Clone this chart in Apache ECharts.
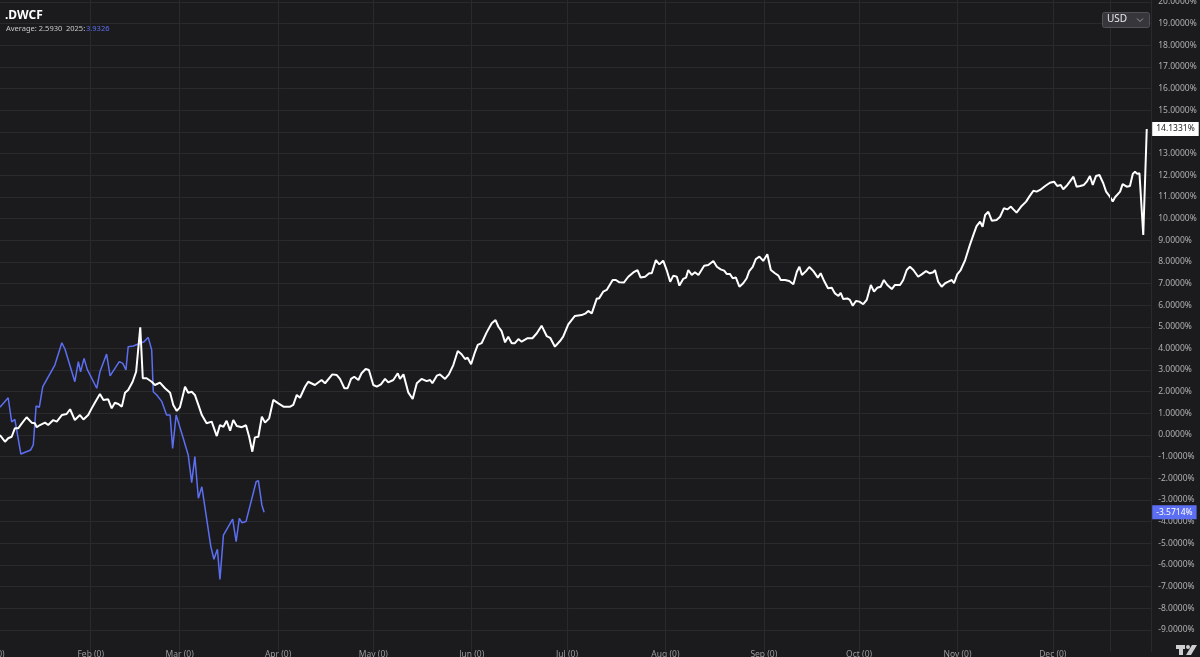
<!DOCTYPE html>
<html>
<head>
<meta charset="utf-8">
<script src="https://cdn.jsdelivr.net/npm/echarts@6/dist/echarts.min.js"></script>
<style>
html,body{margin:0;padding:0;background:#1b1b1d;}
#chart{width:1200px;height:657px;}
</style>
</head>
<body>
<div id="chart"></div>
<script>
// ---- data (x = day of year 2025, 0 = Jan 1; y = % change) ----
const monthNames = ['Jan','Feb','Mar','Apr','May','Jun','Jul','Aug','Sep','Oct','Nov','Dec'];
const monthTickLabels = monthNames.map(m => m + ' (0)');

const whiteDays = [2.4,4.0,5.0,6.1,7.1,8.2,9.3,10.8,12.4,13.4,14.0,15.0,16.6,17.6,19.2,20.3,21.9,23.4,24.5,25.0,26.0,27.6,28.7,30.2,31.3,32.3,33.9,35.0,36.5,37.6,38.6,39.7,40.8,41.8,42.8,44.2,45.3,45.8,46.6,47.4,48.6,50.2,51.2,52.8,54.4,56.0,57.0,58.1,59.1,60.7,61.7,62.8,63.8,64.9,66.0,67.5,69.1,70.7,71.7,72.8,73.8,74.9,75.9,77.0,78.6,79.9,80.9,81.9,82.7,83.8,84.9,85.9,87.2,88.5,90.1,91.7,93.8,94.8,95.9,96.9,98.5,99.5,101.6,103.7,104.8,107.1,108.5,109.5,110.9,111.9,113.0,114.0,115.3,116.3,117.6,118.6,120.0,121.1,122.4,123.7,124.7,126.3,127.7,128.4,129.5,131.0,132.4,133.7,135.2,136.8,137.9,138.6,140.0,141.0,142.6,143.8,145.2,146.6,147.8,148.9,149.7,150.8,152.0,152.9,154.1,155.7,157.3,158.5,159.4,160.4,161.5,162.5,163.6,164.6,165.7,166.7,168.6,170.1,171.5,173.0,174.6,175.7,177.2,178.8,179.8,181.4,183.5,185.6,186.9,187.7,188.8,190.4,191.1,192.4,193.5,195.4,196.4,197.5,198.9,200.3,201.9,203.2,204.2,205.6,206.9,207.7,209.0,210.1,211.3,212.4,213.5,214.5,215.6,216.4,217.6,218.5,219.2,220.3,221.3,222.4,224.2,225.5,227.1,228.2,229.4,230.5,231.3,232.3,233.2,234.2,235.3,236.5,237.6,238.4,239.5,240.5,241.6,242.8,244.1,245.2,246.5,247.6,248.3,249.7,251.0,252.3,253.4,254.2,255.0,256.3,257.3,258.6,260.0,260.9,262.0,263.2,264.4,265.4,266.5,267.2,268.0,269.3,270.1,271.0,272.0,273.1,274.3,275.4,276.7,277.7,278.7,279.8,280.8,281.9,283.3,284.3,285.9,286.9,288.0,289.0,290.1,291.6,292.7,294.1,295.3,296.4,296.9,297.9,299.0,300.1,301.1,302.2,302.9,303.9,305.0,306.4,307.9,309.0,310.0,311.1,311.9,312.7,313.7,314.8,316.3,317.4,318.6,319.7,320.8,321.6,322.6,324.2,325.6,326.6,327.9,328.9,330.0,331.6,333.1,334.4,335.4,336.5,337.3,338.6,339.6,340.5,341.5,342.6,343.8,344.7,345.7,346.6,347.6,348.7,349.9,350.8,352.0,352.9,353.6,355.2,356.0,357.3,358.3,359.2,359.9,360.6,361.3,361.7,362.5,363.6];
const whitePct = [0.00,-0.31,-0.15,-0.08,0.31,0.31,0.54,0.82,0.57,0.54,0.36,0.46,0.57,0.46,0.69,0.62,0.92,0.97,1.19,1.28,0.69,0.92,0.72,0.92,1.23,1.49,1.89,1.62,1.65,1.23,1.49,1.43,1.31,1.95,2.08,2.46,2.92,2.85,4.97,2.62,2.62,2.46,2.31,2.42,2.16,1.95,1.39,1.11,1.28,2.23,1.95,2.00,1.85,1.39,0.92,0.54,0.62,-0.05,0.46,0.38,0.66,0.20,0.69,0.42,0.36,0.45,-0.08,-0.77,-0.11,-0.08,0.85,0.57,0.77,1.62,1.46,1.31,1.31,1.39,1.85,1.72,2.23,2.46,2.31,2.54,2.39,2.80,2.77,2.59,2.16,2.16,2.59,2.69,2.54,2.85,3.05,3.00,2.31,2.23,2.34,2.59,2.43,2.54,2.85,2.59,2.80,1.97,1.66,2.39,2.59,2.49,2.54,2.39,2.74,2.80,2.59,2.80,3.23,3.88,3.73,3.51,3.57,3.27,3.82,4.16,4.24,4.74,5.16,5.31,5.00,4.80,4.28,4.54,4.24,4.24,4.43,4.31,4.47,4.47,4.70,5.05,4.57,4.49,4.08,4.34,4.54,5.11,5.50,5.54,5.62,5.73,5.62,6.31,6.31,6.62,6.70,7.16,7.16,7.05,7.04,7.31,7.51,7.62,7.27,7.31,7.47,7.47,8.08,7.88,8.05,7.62,7.08,7.36,7.31,6.90,7.21,7.27,7.62,7.39,7.52,7.39,7.82,7.85,8.04,7.77,7.65,7.59,7.44,7.44,7.24,7.27,6.85,7.01,7.24,7.57,7.77,8.13,8.24,8.04,8.35,7.62,7.47,7.36,7.16,7.16,7.11,6.96,7.54,7.77,7.39,7.57,7.76,7.57,7.27,7.47,7.11,6.78,6.80,6.54,6.42,6.57,6.28,6.31,6.24,5.97,6.19,6.16,6.04,6.24,6.93,6.62,6.80,6.85,7.16,6.93,6.74,6.93,6.93,7.16,7.62,7.77,7.62,7.31,7.42,7.57,7.47,7.52,7.62,7.08,6.85,7.01,7.08,7.16,7.01,7.42,7.62,8.08,8.78,9.24,9.65,9.85,9.62,10.16,10.31,9.90,9.93,10.08,10.47,10.42,10.55,10.42,10.27,10.58,10.78,11.01,11.28,11.24,11.32,11.50,11.65,11.70,11.50,11.55,11.35,11.55,11.75,11.93,11.47,11.50,11.55,11.70,11.96,11.55,11.96,12.01,11.63,11.24,11.01,10.78,10.98,11.24,11.59,11.47,11.50,12.06,12.16,12.06,12.09,12.12,9.24,14.1331];

const blueDays = [2.4,5.0,6.1,7.1,9.0,12.1,12.9,13.8,14.8,15.9,19.7,21.9,22.9,26.0,27.1,27.8,28.9,29.9,32.9,33.9,36.0,37.1,40.0,41.1,42.1,42.8,44.4,47.8,49.1,50.2,50.7,51.8,53.4,54.9,56.0,56.8,57.9,60.0,61.7,62.8,63.8,64.9,66.0,68.8,69.8,70.9,71.7,72.8,75.7,76.8,77.8,78.6,79.9,83.1,83.8,84.9,85.6];
const bluePct = [1.28,1.72,0.61,0.72,-0.88,-0.69,-0.46,1.34,1.28,2.23,3.23,4.26,3.96,2.46,3.39,2.92,3.54,3.03,2.16,2.92,3.74,2.73,3.39,3.31,3.00,4.08,4.11,4.31,4.51,3.93,2.00,1.85,1.54,0.92,0.92,-0.62,0.92,-0.08,-0.92,-2.20,-1.00,-2.92,-2.39,-5.13,-5.74,-5.28,-6.67,-4.62,-3.89,-4.93,-3.85,-4.05,-4.00,-2.16,-2.11,-3.23,-3.5714];

const titleText = '.DWCF';
const averageText = 'Average: 2.5930';
const yearLabel = '2025:';
const yearValue = '3.9326';
const currencyText = 'USD';
const extraGridDay = 352;

// ---- styles ----
const BG = '#1b1b1d';
const GRID = '#2a2a2d';
const WHITE = '#ffffff';
const BLUE = '#5c6ff2';
const FONT = 'Noto Sans';
const DAY = 86400000;
const T0 = Date.UTC(2025, 0, 1);
const T1 = Date.UTC(2026, 0, 1);

const whiteData = whiteDays.map((d, i) => [T0 + d * DAY, whitePct[i]]);
const blueData = blueDays.map((d, i) => [T0 + d * DAY, bluePct[i]]);
const fmtPct = v => Number(v).toFixed(4) + '%';

const chart = echarts.init(document.getElementById('chart'), null, {renderer: 'canvas'});
chart.setOption({
  useUTC: true,
  backgroundColor: BG,
  animation: false,
  grid: {left: -7.7, right: 48.8, top: -19.65, bottom: 5.5, containLabel: false, outerBoundsMode: 'none'},
  xAxis: {
    type: 'time',
    min: T0, max: T1,
    splitNumber: 12,
    minInterval: 28 * DAY,
    maxInterval: 31 * DAY,
    offset: -7.5,
    axisLine: {show: true, lineStyle: {color: GRID, width: 1}},
    axisTick: {show: false},
    splitLine: {show: true, lineStyle: {color: GRID, width: 1}},
    axisLabel: {
      color: '#9a9a9e', fontSize: 8.5, fontFamily: FONT, margin: 6,
      showMaxLabel: false, showMinLabel: true, hideOverlap: false,
      formatter: v => monthTickLabels[new Date(v).getUTCMonth()]
    }
  },
  yAxis: {
    type: 'value',
    position: 'right',
    min: -10, max: 21, interval: 1,
    axisLine: {show: true, lineStyle: {color: GRID, width: 1}},
    axisTick: {show: false},
    splitLine: {show: true, showMinLine: false, showMaxLine: false, lineStyle: {color: GRID, width: 1}},
    axisLabel: {
      color: '#b0b0b4', fontSize: 8.5, fontFamily: FONT, margin: 7, align: 'left',
      showMinLabel: false, showMaxLabel: false,
      formatter: v => fmtPct(v)
    }
  },
  series: [
    {
      name: 'avg', type: 'line', data: whiteData, showSymbol: false, symbol: 'none',
      lineStyle: {color: WHITE, width: 2}, itemStyle: {color: WHITE}, z: 3,
      markLine: {
        silent: true, symbol: 'none', animation: false, precision: 4,
        data: [
          {yAxis: whitePct[whitePct.length - 1],
           lineStyle: {color: 'rgba(0,0,0,0)', width: 1},
           label: {show: true, position: 'end', distance: 1, formatter: p => fmtPct(p.value),
                   backgroundColor: '#ffffff', color: '#222', fontSize: 8.5, fontFamily: FONT,
                   padding: [3, 4, 2, 4], opacity: 1}},
          {xAxis: T0 + extraGridDay * DAY,
           lineStyle: {color: GRID, width: 1, type: 'solid'},
           label: {show: false}}
        ]
      }
    },
    {
      name: '2025', type: 'line', data: blueData, showSymbol: false, symbol: 'none',
      lineStyle: {color: BLUE, width: 1.5}, itemStyle: {color: BLUE}, z: 2,
      markLine: {
        silent: true, symbol: 'none', animation: false, precision: 4,
        data: [
          {yAxis: bluePct[bluePct.length - 1],
           lineStyle: {color: 'rgba(0,0,0,0)', width: 1},
           label: {show: true, position: 'end', distance: 1, formatter: p => fmtPct(p.value),
                   backgroundColor: BLUE, color: '#ffffff', fontSize: 8.5, fontFamily: FONT,
                   padding: [3, 4, 2, 4], opacity: 1}}
        ]
      }
    }
  ],
  graphic: [
    {type: 'text', left: 5, top: 10, style: {text: titleText, fill: '#ffffff', font: 'bold 12px "Noto Sans"'}},
    {type: 'text', left: 6, top: 25, style: {text: averageText, fill: '#c8c8cc', font: '7.5px "Noto Sans"'}},
    {type: 'text', left: 66, top: 25, style: {text: yearLabel, fill: '#c8c8cc', font: '7.5px "Noto Sans"'}},
    {type: 'text', left: 86, top: 25, style: {text: yearValue, fill: BLUE, font: '7.5px "Noto Sans"'}},
    {type: 'rect', z: 100, shape: {x: 1102.5, y: 12.5, width: 47, height: 15, r: 2},
     style: {fill: '#37373b', stroke: '#505055', lineWidth: 1}},
    {type: 'text', z: 101, x: 1107, y: 14.5, style: {text: currencyText, fill: '#e8e8ea', font: '10px "Noto Sans"'}},
    {type: 'polyline', z: 101, shape: {points: [[1137, 18.5], [1140, 21.5], [1143, 18.5]]},
     style: {stroke: '#9a9a9e', lineWidth: 1, fill: null}},
    // logo
    {type: 'polygon', shape: {points: [[1176,645],[1185,645],[1185,649],[1183,649],[1183,655],[1179,655],[1179,649],[1176,649]]},
     style: {fill: '#cfcfd2'}},
    {type: 'circle', shape: {cx: 1188, cy: 647, r: 2}, style: {fill: '#cfcfd2'}},
    {type: 'polygon', shape: {points: [[1192,645],[1197,645],[1191,655],[1186,655]]}, style: {fill: '#cfcfd2'}}
  ]
});
</script>
</body>
</html>
